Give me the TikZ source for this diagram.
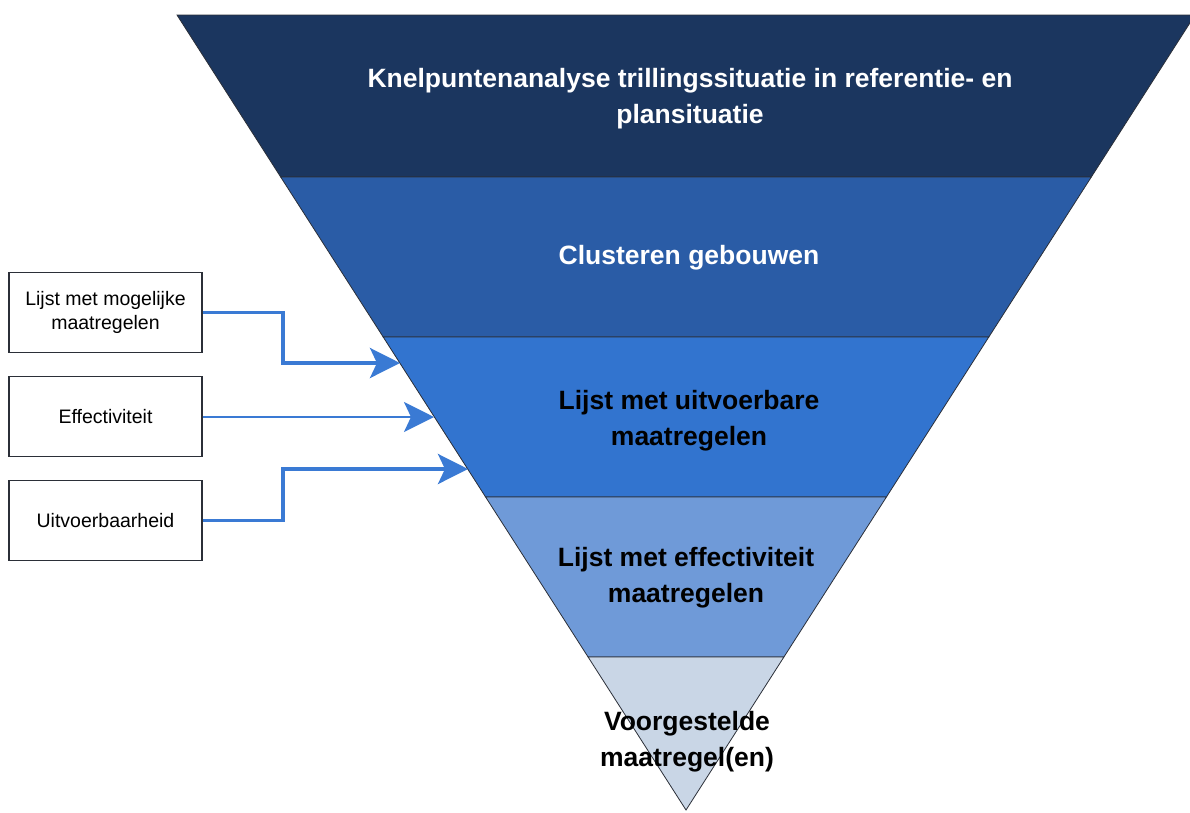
\documentclass[tikz,border=0pt]{standalone}
\usepackage{fontspec}
\setmainfont{Liberation Sans}
\usetikzlibrary{arrows.meta}
\definecolor{bandA}{HTML}{1B365F}
\definecolor{bandB}{HTML}{2A5CA6}
\definecolor{bandC}{HTML}{3274CF}
\definecolor{bandD}{HTML}{6F9AD8}
\definecolor{bandE}{HTML}{C9D6E6}
\definecolor{edge}{HTML}{2B2F38}
\definecolor{arrowblue}{HTML}{3A7AD4}
\tikzset{
  band/.style={draw=edge, line width=0.8pt},
  wtext/.style={text=white, font=\bfseries\fontsize{26.5}{36}\selectfont, align=center},
  btext/.style={text=black, font=\bfseries\fontsize{26.5}{36}\selectfont, align=center},
  inbox/.style={draw=edge, line width=1.4pt, fill=white, minimum width=193pt, minimum height=80pt, align=center, font=\fontsize{19.5}{24}\selectfont, inner sep=2pt},
  feed/.style={draw=arrowblue, line width=3.8pt, -{Stealth[length=30pt,width=30pt,inset=7pt]}},
  feedthin/.style={draw=arrowblue, line width=2.6pt, -{Stealth[length=30pt,width=30pt,inset=7pt]}}
}
\begin{document}
\begin{tikzpicture}[x=1pt,y=-1pt]
\useasboundingbox (0,0) rectangle (1190,812);
\begin{scope}
\clip (0,0) rectangle (1190,812);
\filldraw[band, fill=bandA] (177,15) -- (1195,15) -- (1091.3,177) -- (280.7,177) -- cycle;
\filldraw[band, fill=bandB] (280.7,177) -- (1091.3,177) -- (988.8,337) -- (383.2,337) -- cycle;
\filldraw[band, fill=bandC] (383.2,337) -- (988.8,337) -- (886.4,497) -- (485.6,497) -- cycle;
\filldraw[band, fill=bandD] (485.6,497) -- (886.4,497) -- (783.9,657) -- (588.1,657) -- cycle;
\filldraw[band, fill=bandE] (588.1,657) -- (783.9,657) -- (686,810) -- cycle;
\end{scope}
\node[wtext] (t1) at (690,99) {Knelpuntenanalyse trillingssituatie in referentie- en\\plansituatie};
\node[wtext] (t2) at (689,258) {Clusteren gebouwen};
\node[btext] (t3) at (689,421) {Lijst met uitvoerbare\\maatregelen};
\node[btext] (t4) at (686,578) {Lijst met effectiviteit\\maatregelen};
\node[btext] (t5) at (687,742) {Voorgestelde\\maatregel(en)};
\node[inbox] (b1) at (105.5,312.5) {Lijst met mogelijke\\maatregelen};
\node[inbox] (b2) at (105.5,416.5) {Effectiviteit};
\node[inbox] (b3) at (105.5,520.5) {Uitvoerbaarheid};
\coordinate (e1) at (400,363);
\coordinate (e2) at (434,417);
\coordinate (e3) at (468,469);
\draw[feed] (b1.east) -- ++(80,0) |- (e1);
\draw[feedthin] (b2.east |- e2) -- (e2);
\draw[feed] (b3.east) -- ++(80,0) |- (e3);
\end{tikzpicture}
\end{document}
